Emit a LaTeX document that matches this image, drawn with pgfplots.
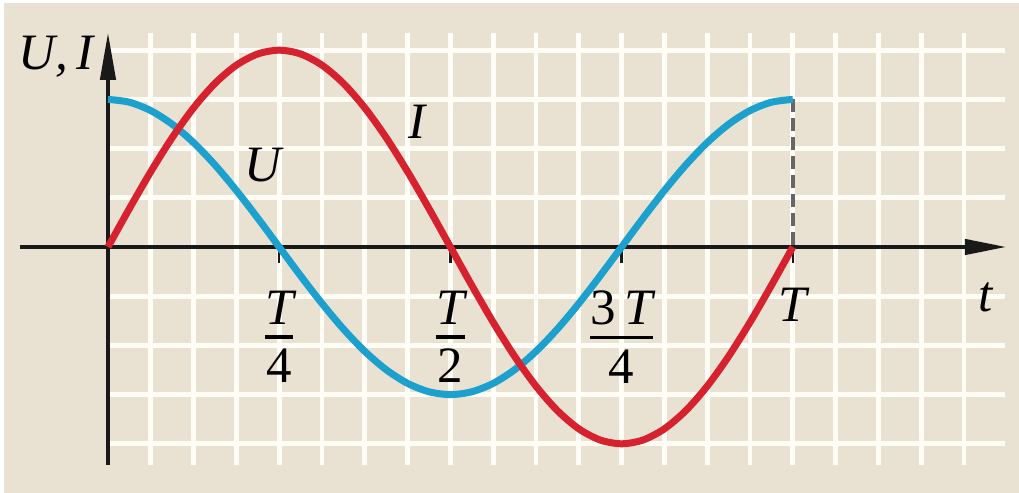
\documentclass[border=0pt]{standalone}
\usepackage{pgfplots}
\pgfplotsset{compat=1.18}
\usepackage{amsmath}
\usepackage{fontspec}
\setmainfont{Liberation Serif}
\usetikzlibrary{arrows.meta}
\definecolor{bgbeige}{RGB}{233,225,209}
\definecolor{curveRed}{RGB}{214,34,46}
\definecolor{curveBlue}{RGB}{28,160,206}
\definecolor{gridW}{RGB}{255,253,246}
\pgfplotstableread{
x y
0 0
0.5 0.7804
1 1.5307
1.5 2.2223
2 2.8284
2.5 3.3259
3 3.6955
3.5 3.9232
4 4
4.5 3.9232
5 3.6955
5.5 3.3259
6 2.8284
6.5 2.2223
7 1.5307
7.5 0.7804
8 0
8.5 -0.7804
9 -1.5307
9.5 -2.2223
10 -2.8284
10.5 -3.3259
11 -3.6955
11.5 -3.9232
12 -4
12.5 -3.9232
13 -3.6955
13.5 -3.3259
14 -2.8284
14.5 -2.2223
15 -1.5307
15.5 -0.7804
16 0
}\currentI
\pgfplotstableread{
x y
0 3
0.5 2.9424
1 2.7716
1.5 2.4944
2 2.1213
2.5 1.6667
3 1.1480
3.5 0.5853
4 0
4.5 -0.5853
5 -1.1480
5.5 -1.6667
6 -2.1213
6.5 -2.4944
7 -2.7716
7.5 -2.9424
8 -3
8.5 -2.9424
9 -2.7716
9.5 -2.4944
10 -2.1213
10.5 -1.6667
11 -1.1480
11.5 -0.5853
12 0
12.5 0.5853
13 1.1480
13.5 1.6667
14 2.1213
14.5 2.4944
15 2.7716
15.5 2.9424
16 3
}\voltageU
\newcommand{\fr}[2]{$\genfrac{}{}{3.5pt}{0}{\text{#1}}{\text{#2}}$}
\begin{document}
\begin{tikzpicture}
\begin{axis}[
  x=42.8pt, y=49.2pt,
  xmin=-2.523, xmax=21.285, ymin=-5.0, ymax=5.02,
  hide axis, clip=false,
]
% background
\fill[white] (axis cs:-2.523,-5.0) rectangle (axis cs:21.285,5.02);
\fill[bgbeige] (axis cs:-2.43,-5.0) rectangle (axis cs:21.285,4.96);
% grid
\pgfplotsinvokeforeach{1,...,20}{
  \draw[gridW, line width=4.8pt] (axis cs:#1,-4.43) -- (axis cs:#1,4.35);
}
\pgfplotsinvokeforeach{-4,-3,-2,-1,1,2,3,4}{
  \draw[gridW, line width=4.8pt] (axis cs:0.05,#1) -- (axis cs:20.96,#1);
}
% dashed line
\draw[black!60, line width=4pt, dash pattern=on 13pt off 6pt] (axis cs:16,3) -- (axis cs:16,0);
% axes
\draw[black!90, line width=4.5pt, -{Triangle[length=42pt,width=15pt]}] (axis cs:-2.06,0) -- (axis cs:21.0,0);
\draw[black!90, line width=4.5pt, -{Triangle[length=48pt,width=15pt]}] (axis cs:0,-4.43) -- (axis cs:0,4.37);
% ticks
\pgfplotsinvokeforeach{4,8,12,16}{
  \draw[black!90, line width=2.5pt] (axis cs:#1,0) -- (axis cs:#1,-0.32);
}
% curves
\addplot[curveBlue, line width=7pt, smooth, line cap=butt] table[x=x,y=y] {\voltageU};
\addplot[curveRed, line width=7pt, smooth, line cap=butt] table[x=x,y=y] {\currentI};
% labels
\node[font=\fontsize{51}{60}\selectfont\itshape] at (axis cs:-1.22,3.86) {U,\,I};
\node[font=\fontsize{51}{60}\selectfont\itshape] at (axis cs:3.62,1.67) {U};
\node[font=\fontsize{51}{60}\selectfont\itshape] at (axis cs:7.22,2.54) {I};
\node[font=\fontsize{51}{60}\selectfont\itshape] at (axis cs:20.5,-1.02) {t};
\node[font=\fontsize{51}{60}\selectfont\itshape] at (axis cs:16,-1.18) {T};
\node[font=\fontsize{51}{60}\selectfont] at (axis cs:4,-1.83) {\fr{\itshape T}{4}};
\node[font=\fontsize{51}{60}\selectfont] at (axis cs:8,-1.83) {\fr{\itshape T}{2}};
\node[font=\fontsize{51}{60}\selectfont] at (axis cs:12,-1.83) {\fr{3\,\itshape T}{4}};
\end{axis}
\end{tikzpicture}
\end{document}
